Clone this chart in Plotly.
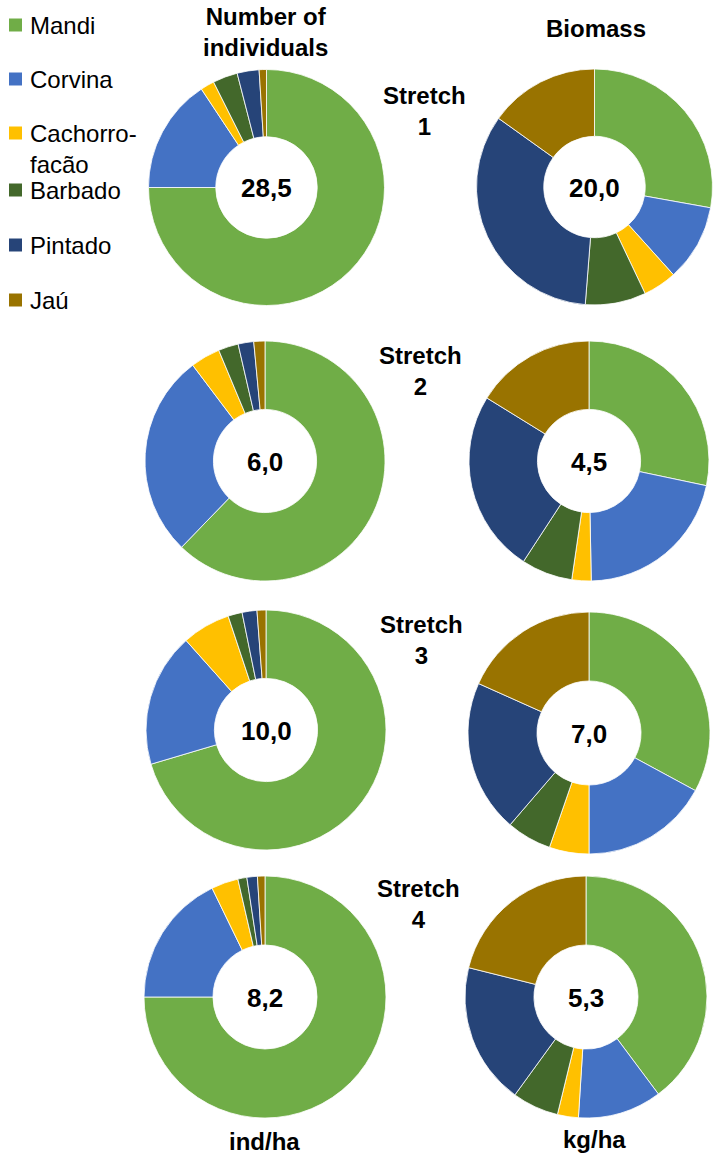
import plotly.graph_objects as go

# ---------------- data ----------------
species = ["Mandi", "Corvina", "Cachorro-facão", "Barbado", "Pintado", "Jaú"]
legend_labels = ["Mandi", "Corvina", "Cachorro-<br>facão", "Barbado", "Pintado", "Jaú"]
colors = ["#70AD47", "#4472C4", "#FFC000", "#43682B", "#264478", "#997300"]

stretch_labels = ["Stretch<br>1", "Stretch<br>2", "Stretch<br>3", "Stretch<br>4"]

# share (%) of each species, number of individuals
ind_s1 = [75.0, 15.7, 1.9, 3.4, 3.0, 1.0]
ind_s2 = [62.3, 27.5, 4.0, 2.7, 2.1, 1.5]
ind_s3 = [70.4, 18.0, 6.5, 1.9, 2.0, 1.2]
ind_s4 = [75.0, 17.8, 3.6, 1.2, 1.4, 1.0]
# share (%) of each species, biomass
bio_s1 = [27.8, 10.5, 4.6, 8.3, 33.6, 15.1]
bio_s2 = [28.3, 21.4, 2.6, 6.9, 24.6, 16.2]
bio_s3 = [32.9, 17.1, 5.3, 6.0, 20.4, 18.3]
bio_s4 = [39.8, 11.2, 2.8, 6.2, 18.9, 21.1]

ind_totals = ["28,5", "6,0", "10,0", "8,2"]
bio_totals = ["20,0", "4,5", "7,0", "5,3"]

col_titles = ["Number of<br>individuals", "Biomass"]
unit_labels = ["ind/ha", "kg/ha"]

# ---------------- layout helpers ----------------
W, H = 716, 1160
FONT = "Liberation Sans, Arial, sans-serif"


def px_x(x):
    return x / W


def px_y(y):
    return 1 - y / H


def domain(cx, cy, r):
    return dict(x=[px_x(cx - r), px_x(cx + r)], y=[px_y(cy + r), px_y(cy - r)])


ind_series = [ind_s1, ind_s2, ind_s3, ind_s4]
bio_series = [bio_s1, bio_s2, bio_s3, bio_s4]

left_centers = [(266.5, 187.5, 118), (265, 461, 120), (266, 730, 120), (265, 997, 121)]
right_centers = [(594.5, 187, 118), (589, 461, 120), (589, 733, 121), (586, 997, 121)]
stretch_pos = [(424, 111), (420, 371), (421, 640), (418, 904)]

fig = go.Figure()

for i in range(4):
    for vals, (cx, cy, r), totals in ((ind_series[i], left_centers[i], ind_totals),
                                       (bio_series[i], right_centers[i], bio_totals)):
        fig.add_trace(go.Pie(
            labels=species, values=vals, hole=0.43, sort=False,
            direction="clockwise", rotation=0,
            marker=dict(colors=colors, line=dict(color="white", width=0.8)),
            textinfo="none", hoverinfo="label+percent", showlegend=False,
            domain=domain(cx, cy, r),
        ))
        fig.add_annotation(x=px_x(cx), y=px_y(cy + 1), xref="paper", yref="paper",
                           text="<b>%s</b>" % totals[i], showarrow=False,
                           font=dict(family=FONT, size=26, color="black"),
                           xanchor="center", yanchor="middle")
    sx, sy = stretch_pos[i]
    fig.add_annotation(x=px_x(sx), y=px_y(sy), xref="paper", yref="paper",
                       text="<b>%s</b>" % stretch_labels[i], showarrow=False,
                       font=dict(family=FONT, size=24, color="black"),
                       xanchor="center", yanchor="middle")

# column titles
fig.add_annotation(x=px_x(265), y=px_y(32), xref="paper", yref="paper",
                   text="<b>%s</b>" % col_titles[0], showarrow=False,
                   font=dict(family=FONT, size=24, color="black"),
                   xanchor="center", yanchor="middle")
fig.add_annotation(x=px_x(596), y=px_y(28), xref="paper", yref="paper",
                   text="<b>%s</b>" % col_titles[1], showarrow=False,
                   font=dict(family=FONT, size=24, color="black"),
                   xanchor="center", yanchor="middle")

# unit labels
fig.add_annotation(x=px_x(264), y=px_y(1141), xref="paper", yref="paper",
                   text="<b>%s</b>" % unit_labels[0], showarrow=False,
                   font=dict(family=FONT, size=24, color="black"),
                   xanchor="center", yanchor="middle")
fig.add_annotation(x=px_x(594), y=px_y(1139), xref="paper", yref="paper",
                   text="<b>%s</b>" % unit_labels[1], showarrow=False,
                   font=dict(family=FONT, size=24, color="black"),
                   xanchor="center", yanchor="middle")

# legend (manual)
legend_y = [25, 79, 133, 190, 245, 300]
for lab, col, ly in zip(legend_labels, colors, legend_y):
    fig.add_shape(type="rect", xref="paper", yref="paper",
                  x0=px_x(9), x1=px_x(22), y0=px_y(ly + 6.5), y1=px_y(ly - 6.5),
                  fillcolor=col, line=dict(width=0))
    fig.add_annotation(x=px_x(28), y=px_y(ly - 15), xref="paper", yref="paper",
                       text=lab, showarrow=False, align="left",
                       font=dict(family=FONT, size=24, color="black"),
                       xanchor="left", yanchor="top")

fig.update_layout(
    width=W, height=H,
    margin=dict(l=0, r=0, t=0, b=0),
    paper_bgcolor="white", plot_bgcolor="white",
    showlegend=False,
)

fig.write_html(
    "out.html",
    config={"displayModeBar": False},
    post_script="document.body.style.margin='0';document.body.style.overflow='hidden';",
)
